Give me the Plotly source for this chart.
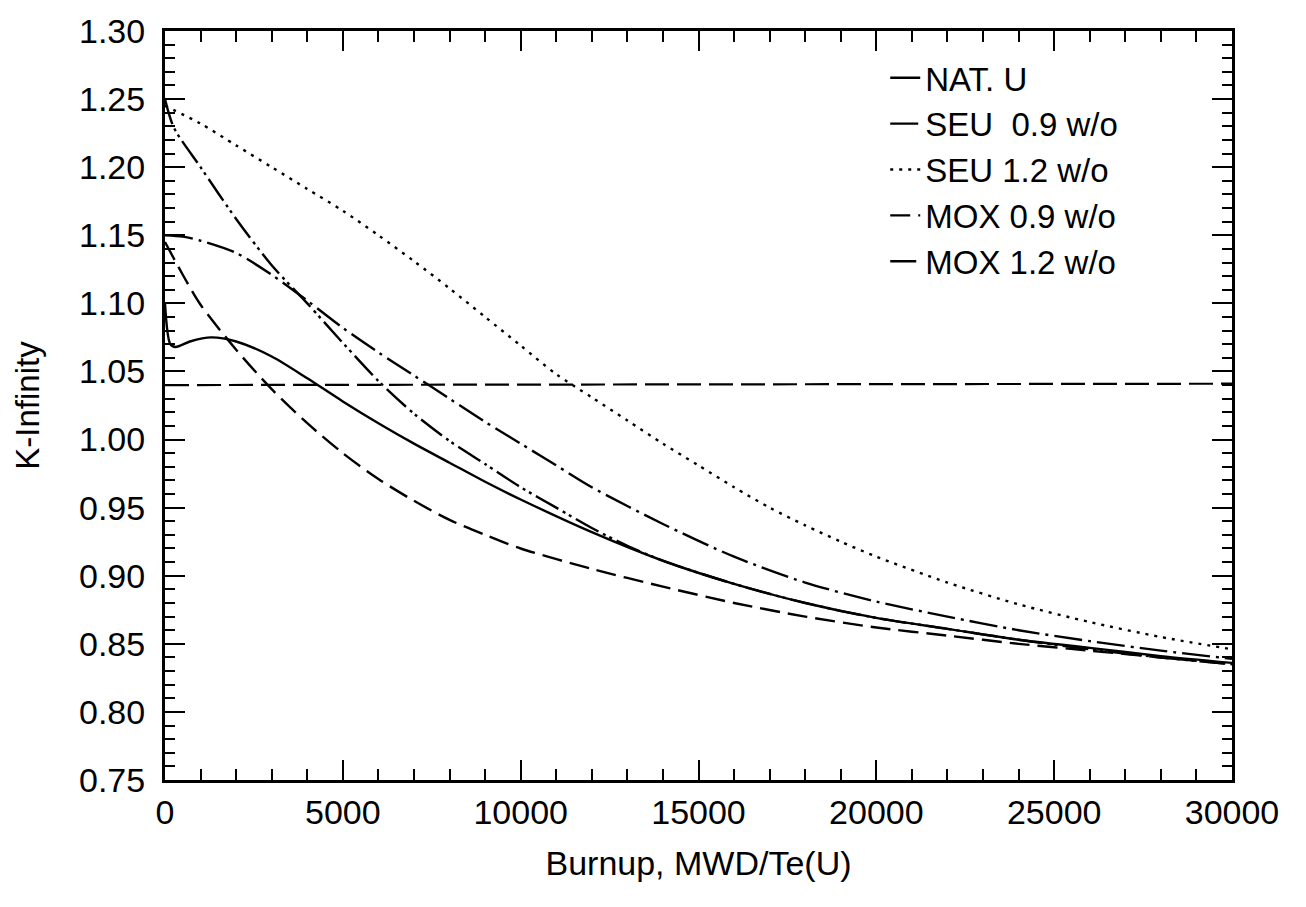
import plotly.graph_objects as go

# Burnup grid (MWD/Te(U)) per series and K-infinity values
nat_u_x = [0, 150, 300, 700, 1300, 2000, 3000, 4000, 5000, 6000, 7000, 8000, 9000, 10000,
           12000, 14000, 16000, 18000, 20000, 22000, 24000, 26000, 28000, 30000]
nat_u_y = [1.100, 1.070, 1.068, 1.072, 1.075, 1.072, 1.061, 1.045, 1.028, 1.012, 0.997, 0.983,
           0.969, 0.956, 0.932, 0.911, 0.894, 0.880, 0.869, 0.861, 0.853, 0.847, 0.841, 0.836]

seu09_x = [0, 500, 1000, 2000, 3000, 4000, 5000, 6000, 7000, 8000, 9000, 10000, 11000, 12000,
           14000, 16000, 18000, 20000, 22000, 24000, 26000, 28000, 30000]
seu09_y = [1.150, 1.149, 1.146, 1.137, 1.121, 1.102, 1.082, 1.064, 1.047, 1.030, 1.013, 0.997,
           0.981, 0.965, 0.938, 0.914, 0.895, 0.881, 0.870, 0.860, 0.852, 0.845, 0.839]

seu12_x = [0, 1000, 2000, 3000, 4000, 5000, 6000, 7000, 8000, 9000, 10000, 11000, 12000, 13000,
           14000, 15000, 16000, 17000, 18000, 19000, 20000, 22000, 24000, 26000, 28000, 30000]
seu12_y = [1.245, 1.232, 1.216, 1.200, 1.184, 1.168, 1.150, 1.131, 1.111, 1.090, 1.069, 1.048,
           1.031, 1.014, 0.997, 0.981, 0.965, 0.950, 0.937, 0.925, 0.914, 0.895, 0.879, 0.866,
           0.855, 0.846]

mox09_x = [0, 500, 1000, 2000, 3000, 4000, 5000, 6000, 7000, 8000, 9000, 10000, 12000, 14000,
           16000, 18000, 20000, 22000, 24000, 26000, 28000, 30000]
mox09_y = [1.145, 1.121, 1.099, 1.066, 1.037, 1.012, 0.990, 0.971, 0.955, 0.941, 0.930, 0.920,
           0.905, 0.892, 0.880, 0.870, 0.862, 0.856, 0.850, 0.845, 0.840, 0.835]

mox12_x = [0, 250, 1000, 2000, 3000, 4000, 5000, 6000, 7000, 8000, 9000, 10000, 11000, 12000,
           13000, 14000, 16000, 18000, 20000, 22000, 24000, 26000, 28000, 30000]
mox12_y = [1.250, 1.229, 1.200, 1.162, 1.128, 1.100, 1.071, 1.043, 1.019, 0.999, 0.982, 0.965,
           0.950, 0.935, 0.922, 0.911, 0.894, 0.880, 0.869, 0.861, 0.853, 0.846, 0.840, 0.835]

ref_x = [0, 30000]
ref_y = [1.040, 1.041]

series = [
    ("NAT. U", nat_u_x, nat_u_y, "solid"),
    ("SEU  0.9 w/o", seu09_x, seu09_y, "28px,6px,3px,6px"),
    ("SEU 1.2 w/o", seu12_x, seu12_y, "3px,6px"),
    ("MOX 0.9 w/o", mox09_x, mox09_y, "20px,8px"),
    ("MOX 1.2 w/o", mox12_x, mox12_y, "26px,5px,3px,4px,3px,5px"),
]

fig = go.Figure()
for name, xs, ys, dash in series:
    fig.add_trace(go.Scatter(
        x=xs, y=ys, name=name, mode="lines",
        line=dict(color="black", width=2.4, dash=dash, shape="spline", smoothing=0.8),
    ))

fig.add_trace(go.Scatter(
    x=ref_x, y=ref_y, mode="lines", showlegend=False, hoverinfo="skip",
    line=dict(color="black", width=2.2, dash="24px,8px"),
))

font_family = "Arial, Liberation Sans, sans-serif"

fig.update_layout(
    width=1306, height=907,
    margin=dict(l=165, r=74, t=22, b=127),
    paper_bgcolor="white", plot_bgcolor="white",
    font=dict(family=font_family, color="black", size=34),
    showlegend=True,
    legend=dict(
        x=0.675, y=0.975, xanchor="left", yanchor="top",
        bgcolor="rgba(0,0,0,0)", borderwidth=0,
        font=dict(size=33, color="black", family=font_family),
        tracegroupgap=0,
    ),
    xaxis=dict(
        range=[0, 30000], dtick=5000, tick0=0, tickformat="d",
        showgrid=False, zeroline=False,
        showline=True, linecolor="black", linewidth=3, mirror="ticks",
        ticks="inside", ticklen=20, tickwidth=2, tickcolor="black",
        minor=dict(dtick=1000, ticks="inside", ticklen=11, tickwidth=1.5, tickcolor="black", showgrid=False),
        tickfont=dict(size=34, color="black"),
        title=dict(text="Burnup, MWD/Te(U)", font=dict(size=34, color="black"), standoff=22),
    ),
    yaxis=dict(
        range=[0.75, 1.30], dtick=0.05, tick0=0.75, tickformat=".2f",
        showgrid=False, zeroline=False,
        showline=True, linecolor="black", linewidth=3, mirror="ticks",
        ticks="inside", ticklen=20, tickwidth=2, tickcolor="black",
        ticklabelstandoff=10,
        minor=dict(dtick=0.01, ticks="inside", ticklen=10, tickwidth=1.5, tickcolor="black", showgrid=False),
        tickfont=dict(size=34, color="black"),
        title=dict(text="K-Infinity", font=dict(size=33, color="black"), standoff=30),
    ),
)

fig.write_html("out.html")
